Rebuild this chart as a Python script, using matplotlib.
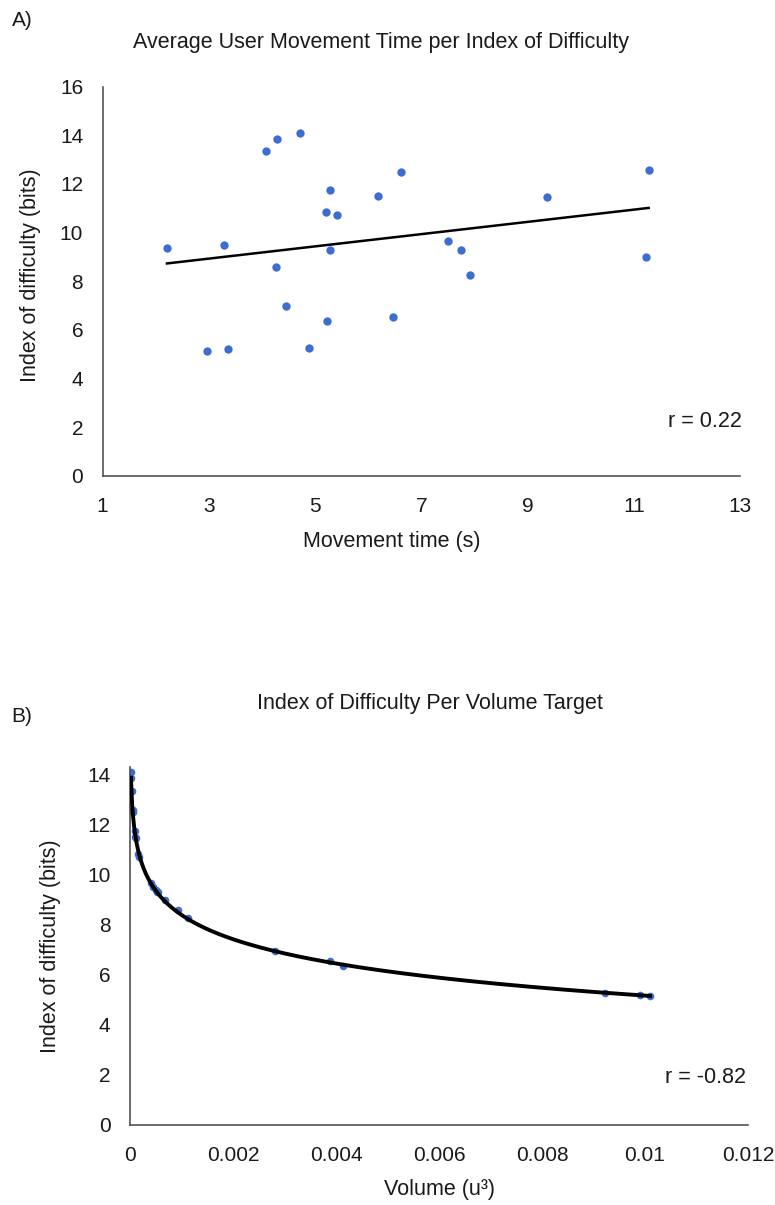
import numpy as np
import matplotlib
matplotlib.use("Agg")
from matplotlib import pyplot as plt

plt.rcParams['font.family'] = ['Liberation Sans', 'DejaVu Sans']

# A) movement time (s) vs index of difficulty (bits)
move_time = [2.21, 3.28, 2.97, 3.36, 4.07, 4.29, 4.72, 4.27, 4.46, 4.89, 5.23, 5.20,
             5.28, 5.42, 5.28, 6.18, 6.61, 6.46, 7.51, 7.74, 7.91, 9.37, 11.28, 11.23]
id_a = [9.38, 9.51, 5.14, 5.21, 13.37, 13.86, 14.11, 8.58, 6.97, 5.26, 6.37, 10.85,
        11.77, 10.73, 9.30, 11.52, 12.51, 6.55, 9.67, 9.30, 8.27, 11.47, 12.58, 9.01]

# B) target volume (u^3) vs index of difficulty (bits)
volume = [0.00002, 0.00002, 0.00003, 0.00005, 0.00005, 0.00009, 0.00010, 0.00011,
          0.00016, 0.00018, 0.00041, 0.00045, 0.00050, 0.00052, 0.00055, 0.00068,
          0.00093, 0.00112, 0.00282, 0.00388, 0.00414, 0.00922, 0.00990, 0.01010]
id_b = [14.11, 13.86, 13.37, 12.58, 12.51, 11.77, 11.52, 11.47,
        10.85, 10.73, 9.67, 9.51, 9.38, 9.30, 9.30, 9.01,
        8.58, 8.27, 6.97, 6.55, 6.37, 5.26, 5.21, 5.14]

dot_color = '#3d6dd0'
axis_color = '#444444'
text_color = '#1a1a1a'


def style_axes(ax):
    for side in ['top', 'right']:
        ax.spines[side].set_visible(False)
    for side in ['left', 'bottom']:
        ax.spines[side].set_color(axis_color)
        ax.spines[side].set_linewidth(1.1)
    ax.tick_params(length=0, labelsize=15, labelcolor=text_color)
    ax.tick_params(axis='y', pad=14)
    ax.tick_params(axis='x', pad=15)


fig = plt.figure(figsize=(7.75, 12.05), dpi=100)

# ---- chart A
ax1 = fig.add_axes([0.1325, 0.6050, 0.8223, 0.3231])
ax1.scatter(move_time, id_a, s=36, color=dot_color, zorder=3, linewidths=0)
x = np.array(move_time)
slope, icpt = np.polyfit(x, id_a, 1)
xs = np.array([x.min(), x.max()])
ax1.plot(xs, slope * xs + icpt, color='black', lw=1.8, zorder=2)
ax1.set_xlim(1, 13)
ax1.set_ylim(0, 16)
ax1.set_xticks([1, 3, 5, 7, 9, 11, 13])
ax1.set_yticks(range(0, 17, 2))
style_axes(ax1)

fig.text(0.015, 0.983, 'A)', fontsize=15, color=text_color, va='center', ha='left')
fig.text(0.492, 0.965, 'Average User Movement Time per Index of Difficulty',
         fontsize=15.5, color=text_color, ha='center', va='center')
fig.text(0.039, 0.772, 'Index of difficulty (bits)', fontsize=15.5, color=text_color,
         rotation=90, ha='center', va='center')
fig.text(0.505, 0.551, 'Movement time (s)', fontsize=15.5, color=text_color,
         ha='center', va='center')
fig.text(0.957, 0.650, 'r = 0.22', fontsize=15.5, color=text_color, ha='right', va='center')

# ---- chart B
ax2 = fig.add_axes([0.1677, 0.0664, 0.7974, 0.2967])
ax2.scatter(volume, id_b, s=30, color=dot_color, zorder=2, linewidths=0)
v = np.array(volume)
b, a = np.polyfit(np.log(v), id_b, 1)
vs = np.linspace(v.min(), v.max(), 2000)
ax2.plot(vs, a + b * np.log(vs), color='black', lw=2.8, zorder=3)
ax2.set_xlim(0, 0.012)
ax2.set_ylim(0, 14.3)
ax2.set_xticks([0, 0.002, 0.004, 0.006, 0.008, 0.01, 0.012])
ax2.set_xticklabels(['0', '0.002', '0.004', '0.006', '0.008', '0.01', '0.012'])
ax2.set_yticks(range(0, 15, 2))
style_axes(ax2)

fig.text(0.015, 0.405, 'B)', fontsize=15, color=text_color, va='center', ha='left')
fig.text(0.555, 0.416, 'Index of Difficulty Per Volume Target',
         fontsize=15.5, color=text_color, ha='center', va='center')
fig.text(0.065, 0.215, 'Index of difficulty (bits)', fontsize=15.5, color=text_color,
         rotation=90, ha='center', va='center')
fig.text(0.567, 0.013, 'Volume (u³)', fontsize=15.5, color=text_color,
         ha='center', va='center')
fig.text(0.962, 0.106, 'r = -0.82', fontsize=15.5, color=text_color, ha='right', va='center')

fig.savefig('out.png', dpi=100)
